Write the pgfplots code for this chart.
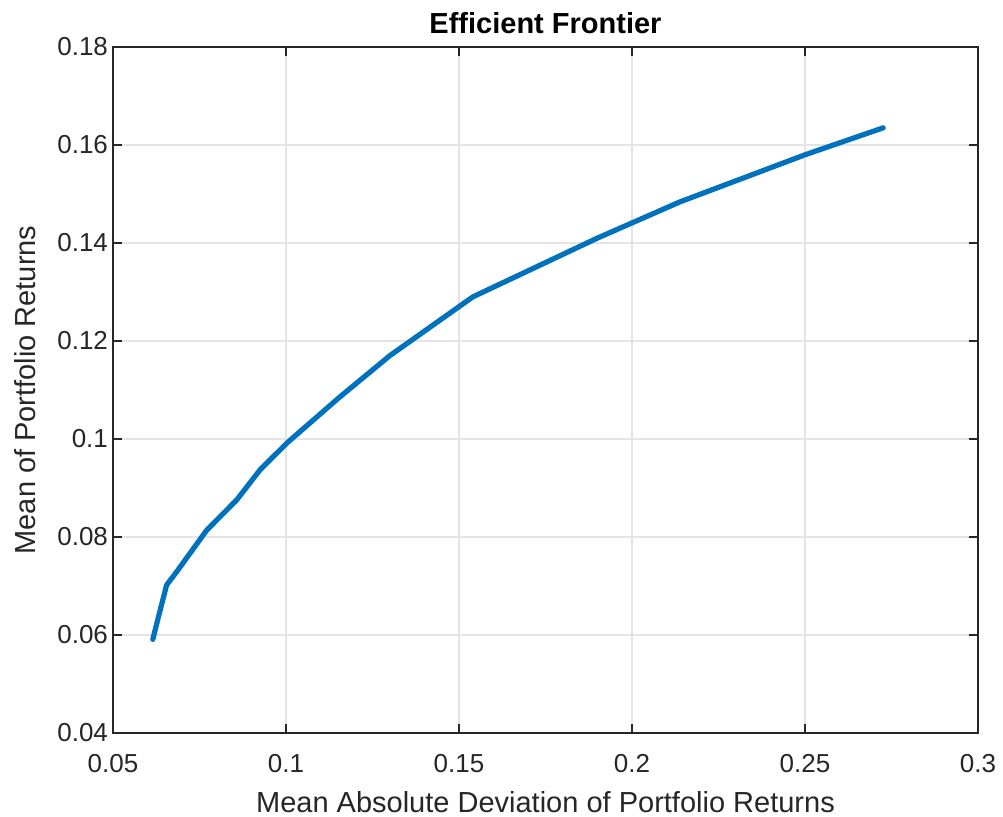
\documentclass[border=0pt]{standalone}
\usepackage{fontspec}
\setmainfont{Liberation Sans}
\usepackage{pgfplots}
\pgfplotsset{compat=1.18}
\definecolor{mblue}{RGB}{0,114,189}
\definecolor{axgray}{RGB}{38,38,38}
\definecolor{gridgray}{RGB}{228,228,228}
\begin{document}
\begin{tikzpicture}
\path[use as bounding box] (0,0) rectangle (501.5pt,408.5pt);
\begin{axis}[
  at={(56.5pt,42pt)}, anchor=south west,
  scale only axis, width=432.5pt, height=343pt,
  xmin=0.05, xmax=0.3, ymin=0.04, ymax=0.18,
  xtick={0.05,0.1,0.15,0.2,0.25,0.3},
  ytick={0.04,0.06,0.08,0.1,0.12,0.14,0.16,0.18},
  xticklabels={0.05,0.1,0.15,0.2,0.25,0.3},
  yticklabels={0.04,0.06,0.08,0.1,0.12,0.14,0.16,0.18},
  grid=major,
  major grid style={gridgray, line width=0.6pt},
  axis line style={axgray, line width=0.6pt},
  tick style={axgray, line width=0.6pt},
  tick align=inside, major tick length=4.5pt,
  ticklabel style={font=\fontsize{13}{15}\selectfont, text=axgray},
  xticklabel style={yshift=-7pt},
  yticklabel style={xshift=1pt},
  label style={font=\fontsize{14.5}{17}\selectfont, text=axgray},
  xlabel={Mean Absolute Deviation of Portfolio Returns},
  ylabel={Mean of Portfolio Returns},
  title={\bfseries Efficient Frontier},
  title style={font=\fontsize{14.5}{17}\selectfont\bfseries, yshift=-3pt},
  xlabel style={yshift=-2.5pt},
  ylabel style={yshift=4pt},
]
\addplot[mblue, line width=2.6pt, line join=round, line cap=round] coordinates {
(0.0615,0.0591)
(0.0635,0.0647)
(0.0655,0.0702)
(0.0684,0.0729)
(0.0771,0.0814)
(0.0858,0.0876)
(0.0925,0.0937)
(0.1003,0.0992)
(0.1156,0.1086)
(0.1300,0.1170)
(0.1540,0.1290)
(0.1900,0.1410)
(0.2139,0.1484)
(0.2500,0.1580)
(0.2726,0.1635)
};
\end{axis}
\end{tikzpicture}
\end{document}
